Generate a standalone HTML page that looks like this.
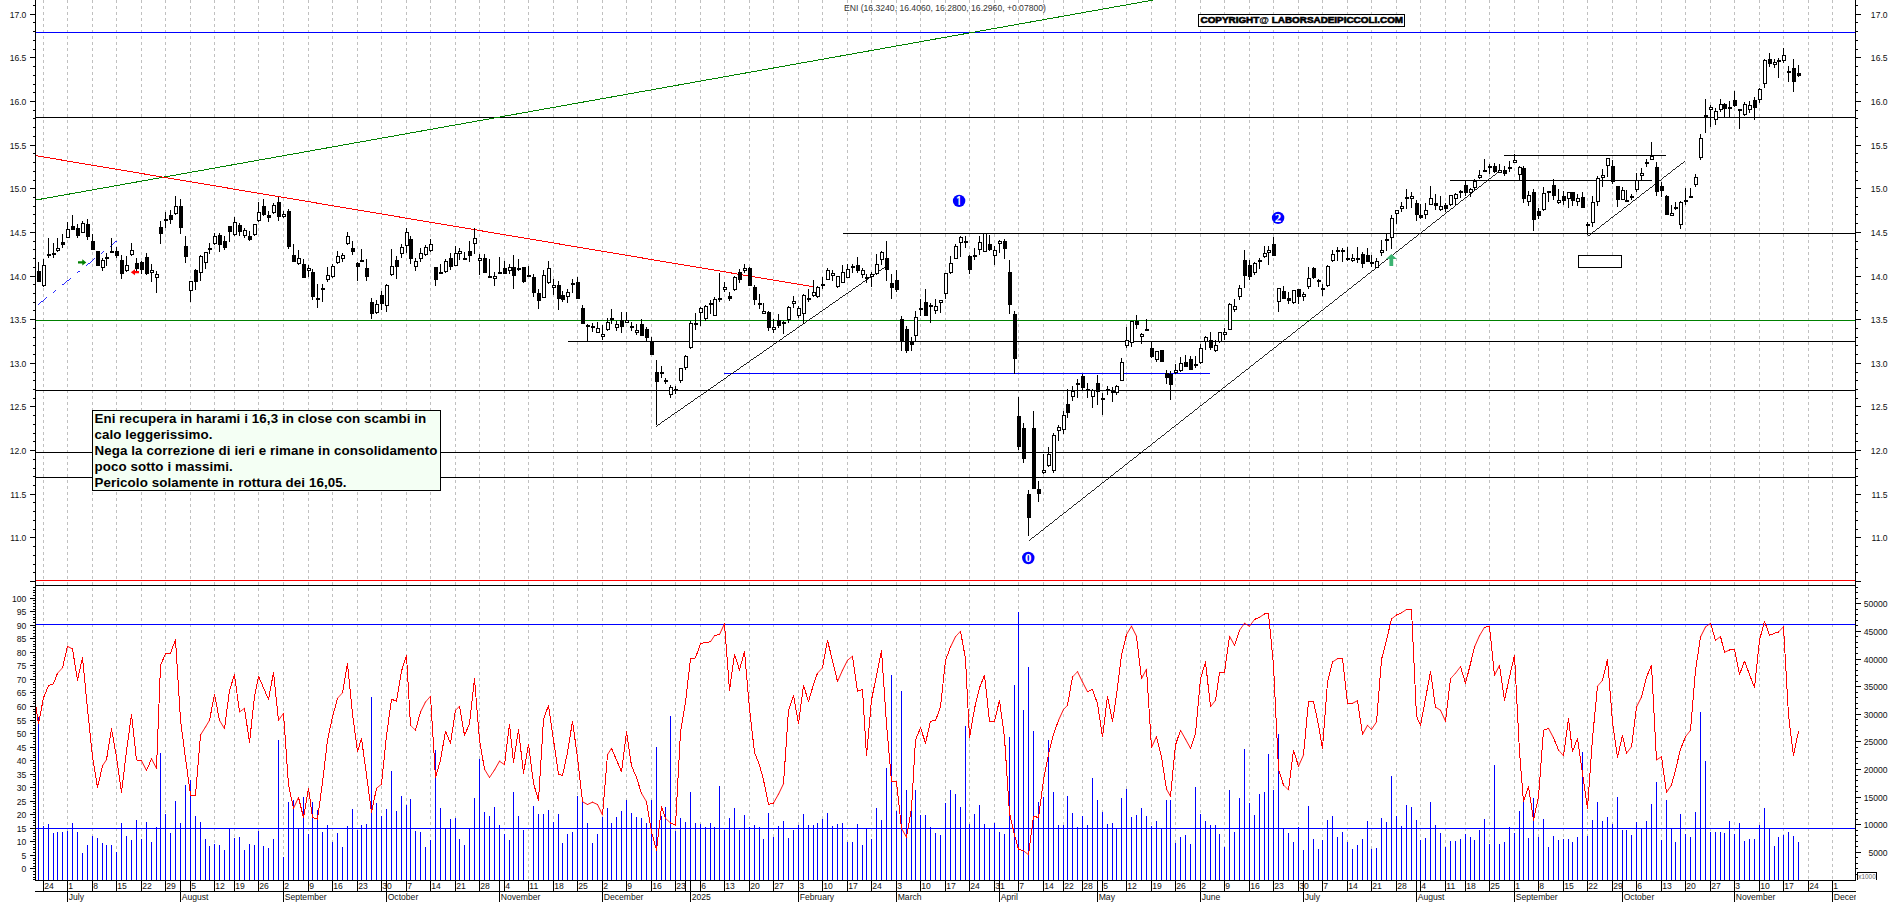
<!DOCTYPE html>
<html lang="it"><head><meta charset="utf-8"><title>ENI</title>
<style>html,body{margin:0;padding:0;background:#fff}body{width:1890px;height:902px;overflow:hidden}svg{display:block}</style></head>
<body>
<svg width="1890" height="902" viewBox="0 0 1890 902" shape-rendering="crispEdges">
<rect width="1890" height="902" fill="#fff"/>
<path d="M43.5 0V880M67.5 0V880M92.5 0V880M116.5 0V880M141.5 0V880M165.5 0V880M190.5 0V880M214.5 0V880M234.5 0V880M258.5 0V880M283.5 0V880M308.5 0V880M332.5 0V880M357.5 0V880M381.5 0V880M406.5 0V880M430.5 0V880M455.5 0V880M479.5 0V880M504.5 0V880M528.5 0V880M553.5 0V880M577.5 0V880M602.5 0V880M626.5 0V880M651.5 0V880M675.5 0V880M700.5 0V880M724.5 0V880M749.5 0V880M773.5 0V880M798.5 0V880M822.5 0V880M847.5 0V880M871.5 0V880M896.5 0V880M920.5 0V880M945.5 0V880M969.5 0V880M994.5 0V880M1018.5 0V880M1043.5 0V880M1063.5 0V880M1082.5 0V880M1102.5 0V880M1126.5 0V880M1151.5 0V880M1175.5 0V880M1200.5 0V880M1224.5 0V880M1249.5 0V880M1273.5 0V880M1298.5 0V880M1322.5 0V880M1347.5 0V880M1371.5 0V880M1396.5 0V880M1420.5 0V880M1445.5 0V880M1465.5 0V880M1489.5 0V880M1514.5 0V880M1538.5 0V880M1563.5 0V880M1587.5 0V880M1612.5 0V880M1636.5 0V880M1661.5 0V880M1685.5 0V880M1710.5 0V880M1734.5 0V880M1759.5 0V880M1783.5 0V880M1808.5 0V880M1832.5 0V880" stroke="#c0c0c0" stroke-width="1" stroke-dasharray="3 3" fill="none"/>
<path d="M36 32.5H1855" stroke="#0000ff" stroke-width="1"/>
<path d="M36 117.5H1855" stroke="#000" stroke-width="1"/>
<path d="M36 320.5H1855" stroke="#008000" stroke-width="1"/>
<path d="M36 390.5H1855" stroke="#000" stroke-width="1"/>
<path d="M36 452.5H1855" stroke="#000" stroke-width="1"/>
<path d="M36 477.5H1855" stroke="#000" stroke-width="1"/>
<path d="M843 233.5H1855" stroke="#000" stroke-width="1"/>
<path d="M568 341.5H1855" stroke="#000" stroke-width="1"/>
<path d="M724 373.5H1210" stroke="#0000ff" stroke-width="1"/>
<path d="M1504 155.5H1666" stroke="#000" stroke-width="1"/>
<path d="M1450 180.5H1652" stroke="#000" stroke-width="1"/>
<path d="M36 580.5H1855" stroke="#ff0000" stroke-width="1"/>
<path d="M36 585.5H1855" stroke="#000" stroke-width="1"/>
<path d="M36 624.5H1855" stroke="#0000ff" stroke-width="1"/>
<path d="M36 828.5H1855" stroke="#0000ff" stroke-width="1"/>
<path d="M36 200L1153.5 0" stroke="#008000" stroke-width="1.00" fill="none"/>
<path d="M36 155.7L812.7 286.7" stroke="#ff0000" stroke-width="1.00" fill="none"/>
<path d="M655.7 426.7L885 267" stroke="#000" stroke-width="0.88" fill="none"/>
<path d="M1029 540.7L1500 170.7" stroke="#000" stroke-width="0.85" fill="none"/>
<path d="M1587.5 235.8L1685 160.3" stroke="#000" stroke-width="0.85" fill="none"/>
<path d="M38 304.8L117.3 240.5" stroke="#0000ff" stroke-width="0.84" fill="none" stroke-dasharray="11.6 7.7 3.9 7.7"/>
<path d="M38.5 880V717M43.5 880V826M48.5 880V824M53.5 880V833M57.5 880V832M62.5 880V832M67.5 880V831M72.5 880V823M77.5 880V832M82.5 880V853M87.5 880V845M92.5 880V836M97.5 880V838M102.5 880V843M106.5 880V845M111.5 880V845M116.5 880V852M121.5 880V823M126.5 880V836M131.5 880V840M136.5 880V820M141.5 880V839M146.5 880V822M151.5 880V842M156.5 880V827M160.5 880V753M165.5 880V814M170.5 880V833M175.5 880V801M180.5 880V823M185.5 880V785M190.5 880V780M195.5 880V816M200.5 880V822M205.5 880V839M209.5 880V846M214.5 880V844M219.5 880V845M224.5 880V850M229.5 880V829M234.5 880V838M239.5 880V837M244.5 880V850M249.5 880V844M254.5 880V845M258.5 880V831M263.5 880V846M268.5 880V848M273.5 880V839M278.5 880V740M283.5 880V857M288.5 880V802M293.5 880V800M298.5 880V829M303.5 880V797M308.5 880V834M312.5 880V802M317.5 880V810M322.5 880V832M327.5 880V825M332.5 880V842M337.5 880V833M342.5 880V847M347.5 880V826M352.5 880V809M357.5 880V830M361.5 880V825M366.5 880V824M371.5 880V697M376.5 880V803M381.5 880V816M386.5 880V809M391.5 880V771M396.5 880V811M401.5 880V796M406.5 880V805M410.5 880V799M415.5 880V831M420.5 880V832M425.5 880V847M430.5 880V840M435.5 880V750M440.5 880V808M445.5 880V829M450.5 880V819M455.5 880V818M459.5 880V839M464.5 880V845M469.5 880V829M474.5 880V798M479.5 880V759M484.5 880V812M489.5 880V816M494.5 880V807M499.5 880V825M504.5 880V834M509.5 880V840M513.5 880V792M518.5 880V816M523.5 880V830M533.5 880V806M538.5 880V814M543.5 880V814M548.5 880V810M553.5 880V822M558.5 880V814M562.5 880V843M567.5 880V834M572.5 880V832M577.5 880V796M582.5 880V802M587.5 880V823M592.5 880V843M597.5 880V834M602.5 880V817M607.5 880V808M611.5 880V823M616.5 880V817M621.5 880V811M626.5 880V800M631.5 880V813M636.5 880V817M641.5 880V818M646.5 880V823M651.5 880V800M656.5 880V747M661.5 880V816M665.5 880V807M670.5 880V716M675.5 880V831M680.5 880V818M685.5 880V822M690.5 880V792M695.5 880V823M700.5 880V824M705.5 880V827M710.5 880V823M714.5 880V827M719.5 880V786M724.5 880V830M729.5 880V818M734.5 880V808M739.5 880V830M744.5 880V815M749.5 880V827M754.5 880V825M759.5 880V827M763.5 880V839M768.5 880V813M773.5 880V837M778.5 880V826M783.5 880V821M788.5 880V838M793.5 880V830M798.5 880V825M803.5 880V814M808.5 880V825M813.5 880V825M817.5 880V823M822.5 880V819M827.5 880V813M832.5 880V826M837.5 880V824M842.5 880V823M847.5 880V842M852.5 880V842M857.5 880V824M862.5 880V845M866.5 880V828M871.5 880V839M876.5 880V808M881.5 880V820M886.5 880V768M891.5 880V675M896.5 880V811M901.5 880V691M906.5 880V790M911.5 880V809M915.5 880V790M920.5 880V815M925.5 880V815M930.5 880V827M935.5 880V833M940.5 880V835M945.5 880V803M950.5 880V790M955.5 880V794M960.5 880V807M965.5 880V726M969.5 880V824M974.5 880V814M979.5 880V805M984.5 880V824M989.5 880V829M994.5 880V823M999.5 880V832M1004.5 880V834M1009.5 880V737M1014.5 880V685M1018.5 880V612M1023.5 880V710M1028.5 880V667M1033.5 880V731M1038.5 880V802M1043.5 880V797M1048.5 880V740M1053.5 880V792M1058.5 880V825M1063.5 880V825M1067.5 880V796M1072.5 880V813M1077.5 880V827M1082.5 880V816M1087.5 880V825M1092.5 880V778M1097.5 880V800M1102.5 880V812M1107.5 880V824M1112.5 880V823M1116.5 880V829M1121.5 880V798M1126.5 880V789M1131.5 880V817M1136.5 880V815M1141.5 880V808M1146.5 880V816M1151.5 880V826M1156.5 880V821M1161.5 880V829M1166.5 880V800M1170.5 880V800M1175.5 880V843M1180.5 880V837M1185.5 880V835M1190.5 880V844M1195.5 880V787M1200.5 880V814M1205.5 880V821M1210.5 880V825M1215.5 880V825M1219.5 880V834M1224.5 880V847M1229.5 880V790M1234.5 880V832M1239.5 880V798M1244.5 880V749M1249.5 880V803M1254.5 880V815M1259.5 880V794M1264.5 880V792M1268.5 880V754M1273.5 880V790M1278.5 880V734M1283.5 880V829M1288.5 880V833M1293.5 880V842M1298.5 880V827M1303.5 880V850M1308.5 880V806M1313.5 880V839M1318.5 880V849M1322.5 880V840M1327.5 880V820M1332.5 880V816M1337.5 880V837M1342.5 880V832M1347.5 880V842M1352.5 880V849M1357.5 880V845M1362.5 880V839M1367.5 880V821M1371.5 880V849M1376.5 880V848M1381.5 880V818M1386.5 880V822M1391.5 880V776M1396.5 880V816M1401.5 880V826M1406.5 880V805M1411.5 880V807M1416.5 880V820M1420.5 880V840M1425.5 880V838M1430.5 880V802M1435.5 880V825M1440.5 880V833M1445.5 880V847M1450.5 880V841M1455.5 880V841M1460.5 880V839M1465.5 880V834M1470.5 880V837M1474.5 880V840M1479.5 880V830M1484.5 880V819M1489.5 880V844M1494.5 880V765M1499.5 880V844M1504.5 880V842M1509.5 880V827M1514.5 880V833M1519.5 880V811M1523.5 880V802M1528.5 880V838M1533.5 880V798M1538.5 880V837M1543.5 880V819M1548.5 880V847M1553.5 880V836M1558.5 880V840M1563.5 880V839M1568.5 880V839M1572.5 880V842M1577.5 880V837M1582.5 880V752M1587.5 880V836M1592.5 880V820M1597.5 880V802M1602.5 880V821M1607.5 880V817M1612.5 880V824M1617.5 880V797M1622.5 880V830M1626.5 880V830M1631.5 880V835M1636.5 880V822M1641.5 880V829M1646.5 880V821M1651.5 880V804M1656.5 880V782M1661.5 880V840M1666.5 880V800M1671.5 880V829M1675.5 880V842M1680.5 880V814M1685.5 880V834M1690.5 880V837M1695.5 880V812M1700.5 880V712M1705.5 880V761M1710.5 880V832M1715.5 880V832M1720.5 880V832M1724.5 880V833M1729.5 880V821M1734.5 880V834M1739.5 880V823M1744.5 880V841M1749.5 880V839M1754.5 880V839M1759.5 880V825M1764.5 880V808M1769.5 880V829M1774.5 880V846M1778.5 880V837M1783.5 880V835M1788.5 880V832M1793.5 880V836M1798.5 880V842" stroke="#0000ff" stroke-width="1" fill="none"/>
<path d="M410.5 725.3L415.5 730.3M1283.5 785L1288.5 790" stroke="#ff0000" stroke-width="0.75" stroke-linecap="square" fill="none"/>
<path d="M57.5 673.3L62.5 667.8M337.5 698.3L342.5 692.8M425.5 702L430.5 696.2M455.5 710.3L459.5 706.2M665.5 818.3L670.5 823M817.5 673.2L822.5 667.8M955.5 636.7L960.5 631.2M1063.5 709.5L1067.5 705.3M1072.5 677L1077.5 671.7M1367.5 725.3L1371.5 729.5M1450.5 678.7L1455.5 673.2M1558.5 750L1563.5 755.8M1597.5 686.2L1602.5 680.3M1778.5 632L1783.5 626.7" stroke="#ff0000" stroke-width="0.80" stroke-linecap="square" fill="none"/>
<path d="M239.5 712L244.5 708.3M278.5 720.3L283.5 713.3M376.5 788.3L381.5 784.2M847.5 660.3L852.5 656.2M1023.5 850.8L1028.5 854.7M1210.5 706.7L1215.5 700.3M1239.5 630.3L1244.5 623.3M1249.5 626.2L1254.5 619.5M1391.5 619L1396.5 615M1455.5 673.2L1460.5 666.7M1626.5 753.3L1631.5 746.7M1685.5 736.7L1690.5 730.3M1705.5 627L1710.5 623.3M1715.5 640.3L1720.5 636.5" stroke="#ff0000" stroke-width="0.85" stroke-linecap="square" fill="none"/>
<path d="M102.5 765.8L106.5 759.7M200.5 735L205.5 727M205.5 727L209.5 720.3M219.5 720.3L224.5 728.7M484.5 769.2L489.5 777.5M489.5 777.5L494.5 770M499.5 761.2L504.5 764.7M607.5 754.7L611.5 748.3M641.5 793.3L646.5 801.7M710.5 641.7L714.5 635.7M1126.5 634.5L1131.5 626.2M1259.5 617.3L1264.5 614M1332.5 662L1337.5 658.7M1371.5 729.5L1376.5 722M1401.5 612.8L1406.5 609.5M1435.5 707L1440.5 710.3M1479.5 635.7L1484.5 627.3M1656.5 760L1661.5 756.7M1666.5 792.5L1671.5 785" stroke="#ff0000" stroke-width="0.90" stroke-linecap="square" fill="none"/>
<path d="M67.5 646.3L72.5 649M141.5 760.8L146.5 770.5M151.5 758.8L156.5 768.3M293.5 808.3L298.5 797.5M420.5 712L425.5 702M494.5 770L499.5 761.2M582.5 801.7L587.5 804.5M587.5 804.5L592.5 802.2M592.5 802.2L597.5 804.5M597.5 804.5L602.5 815M719.5 634.5L724.5 623.7M773.5 803L778.5 794.2M778.5 794.2L783.5 783.8M837.5 681.5L842.5 670.3M842.5 670.3L847.5 660.3M901.5 828.3L906.5 837.2M950.5 647L955.5 636.7M1058.5 720.3L1063.5 709.5M1077.5 671.7L1082.5 682M1082.5 682L1087.5 691.7M1131.5 626.2L1136.5 636.2M1141.5 678.7L1146.5 669.2M1151.5 747.5L1156.5 736.7M1166.5 789.2L1170.5 796.3M1180.5 730.3L1185.5 739.2M1185.5 739.2L1190.5 748.3M1229.5 636.2L1234.5 645.3M1244.5 623.3L1249.5 626.2M1298.5 766.2L1303.5 755M1352.5 703.3L1357.5 700.7M1362.5 734.5L1367.5 725.3M1440.5 710.3L1445.5 721.2M1474.5 647L1479.5 635.7M1494.5 675.3L1499.5 665.3M1548.5 728.3L1553.5 737.8M1636.5 707L1641.5 697M1700.5 637L1705.5 627M1724.5 652.3L1729.5 650" stroke="#ff0000" stroke-width="0.95" stroke-linecap="square" fill="none"/>
<path d="M36 707L38.5 723.7M38.5 723.7L43.5 697.8M43.5 697.8L48.5 685.7M48.5 685.7L53.5 683.7M53.5 683.7L57.5 673.3M62.5 667.8L67.5 646.3M72.5 649L77.5 680.3M77.5 680.3L82.5 657.5M82.5 657.5L87.5 708.7M87.5 708.7L92.5 757M92.5 757L97.5 787.5M97.5 787.5L102.5 765.8M106.5 759.7L111.5 728.7M111.5 728.7L116.5 757M116.5 757L121.5 792.5M121.5 792.5L126.5 751M126.5 751L131.5 714.5M131.5 714.5L136.5 760M136.5 760L141.5 760.8M146.5 770.5L151.5 758.8M156.5 768.3L160.5 665.3M160.5 665.3L165.5 653.7M165.5 653.7L170.5 653.3M170.5 653.3L175.5 639.5M175.5 639.5L180.5 720M180.5 720L185.5 758.3M185.5 758.3L190.5 795M190.5 795L195.5 795.3M195.5 795.3L200.5 735M209.5 720.3L214.5 694.5M214.5 694.5L219.5 720.3M224.5 728.7L229.5 690.3M229.5 690.3L234.5 674.8M234.5 674.8L239.5 712M244.5 708.3L249.5 742.5M249.5 742.5L254.5 696.2M254.5 696.2L258.5 676.2M258.5 676.2L263.5 687.8M263.5 687.8L268.5 699.5M268.5 699.5L273.5 672.5M273.5 672.5L278.5 720.3M283.5 713.3L288.5 785M288.5 785L293.5 808.3M298.5 797.5L303.5 817.5M303.5 817.5L308.5 788.3M308.5 788.3L312.5 817.5M312.5 817.5L317.5 819.2M317.5 819.2L322.5 782.5M322.5 782.5L327.5 740M327.5 740L332.5 717M332.5 717L337.5 698.3M342.5 692.8L347.5 663.3M347.5 663.3L352.5 713.7M352.5 713.7L357.5 751.7M357.5 751.7L361.5 738.3M361.5 738.3L366.5 775M366.5 775L371.5 812.5M371.5 812.5L376.5 788.3M381.5 784.2L386.5 735.8M386.5 735.8L391.5 699.2M391.5 699.2L396.5 701.2M396.5 701.2L401.5 671.2M401.5 671.2L406.5 655.3M406.5 655.3L410.5 725.3M415.5 730.3L420.5 712M430.5 696.2L435.5 777.5M435.5 777.5L440.5 760M440.5 760L445.5 731.2M445.5 731.2L450.5 743.3M450.5 743.3L455.5 710.3M459.5 706.2L464.5 735.3M464.5 735.3L469.5 723.7M469.5 723.7L474.5 679M474.5 679L479.5 740M479.5 740L484.5 769.2M504.5 764.7L509.5 724.2M509.5 724.2L513.5 762.5M513.5 762.5L518.5 729.5M518.5 729.5L523.5 773.3M523.5 773.3L528.5 744.2M528.5 744.2L533.5 783.3M533.5 783.3L538.5 800.5M538.5 800.5L543.5 719.5M543.5 719.5L548.5 705.3M548.5 705.3L553.5 740M553.5 740L558.5 774.2M558.5 774.2L562.5 775.5M562.5 775.5L567.5 752.5M567.5 752.5L572.5 721.2M572.5 721.2L577.5 757.5M577.5 757.5L582.5 801.7M602.5 815L607.5 754.7M611.5 748.3L616.5 760M616.5 760L621.5 771.7M621.5 771.7L626.5 732M626.5 732L631.5 765.8M631.5 765.8L636.5 777.5M636.5 777.5L641.5 793.3M646.5 801.7L651.5 831.7M651.5 831.7L656.5 850M656.5 850L661.5 807M661.5 807L665.5 818.3M670.5 823L675.5 825M675.5 825L680.5 732M680.5 732L685.5 702M685.5 702L690.5 659M690.5 659L695.5 657.8M695.5 657.8L700.5 643.7M700.5 643.7L705.5 642.5M705.5 642.5L710.5 641.7M714.5 635.7L719.5 634.5M724.5 623.7L729.5 690.3M729.5 690.3L734.5 654.5M734.5 654.5L739.5 670M739.5 670L744.5 651.5M744.5 651.5L749.5 708.7M749.5 708.7L754.5 752.5M754.5 752.5L759.5 765M759.5 765L763.5 780M763.5 780L768.5 804.5M768.5 804.5L773.5 803M783.5 783.8L788.5 710.3M788.5 710.3L793.5 695.3M793.5 695.3L798.5 723.7M798.5 723.7L803.5 685.3M803.5 685.3L808.5 701.5M808.5 701.5L813.5 684.5M813.5 684.5L817.5 673.2M822.5 667.8L827.5 640.3M827.5 640.3L832.5 660.8M832.5 660.8L837.5 681.5M852.5 656.2L857.5 691.2M857.5 691.2L862.5 689.5M862.5 689.5L866.5 755.8M866.5 755.8L871.5 700M871.5 700L876.5 675.3M876.5 675.3L881.5 650.3M881.5 650.3L886.5 723.7M886.5 723.7L891.5 781.3M891.5 781.3L896.5 781.7M896.5 781.7L901.5 828.3M906.5 837.2L911.5 808.3M911.5 808.3L915.5 740M915.5 740L920.5 727.8M920.5 727.8L925.5 743M925.5 743L930.5 721.2M930.5 721.2L935.5 720.7M935.5 720.7L940.5 707M940.5 707L945.5 660.3M945.5 660.3L950.5 647M960.5 631.2L965.5 658.7M965.5 658.7L969.5 737.8M969.5 737.8L974.5 708.7M974.5 708.7L979.5 687.8M979.5 687.8L984.5 675.3M984.5 675.3L989.5 721.2M989.5 721.2L994.5 721.2M994.5 721.2L999.5 700.3M999.5 700.3L1004.5 737.5M1004.5 737.5L1009.5 813.3M1009.5 813.3L1014.5 835M1014.5 835L1018.5 849.2M1018.5 849.2L1023.5 850.8M1028.5 854.7L1033.5 816.3M1033.5 816.3L1038.5 817.5M1038.5 817.5L1043.5 780M1043.5 780L1048.5 754.2M1048.5 754.2L1053.5 734.5M1053.5 734.5L1058.5 720.3M1067.5 705.3L1072.5 677M1087.5 691.7L1092.5 689.5M1092.5 689.5L1097.5 703.7M1097.5 703.7L1102.5 737M1102.5 737L1107.5 696.2M1107.5 696.2L1112.5 721.7M1112.5 721.7L1116.5 695.3M1116.5 695.3L1121.5 655.3M1121.5 655.3L1126.5 634.5M1136.5 636.2L1141.5 678.7M1146.5 669.2L1151.5 747.5M1156.5 736.7L1161.5 756.7M1161.5 756.7L1166.5 789.2M1170.5 796.3L1175.5 745M1175.5 745L1180.5 730.3M1190.5 748.3L1195.5 733.7M1195.5 733.7L1200.5 678.7M1200.5 678.7L1205.5 662M1205.5 662L1210.5 706.7M1215.5 700.3L1219.5 672.8M1219.5 672.8L1224.5 672.5M1224.5 672.5L1229.5 636.2M1234.5 645.3L1239.5 630.3M1254.5 619.5L1259.5 617.3M1264.5 614L1268.5 613.3M1268.5 613.3L1273.5 665.3M1273.5 665.3L1278.5 769.2M1278.5 769.2L1283.5 785M1288.5 790L1293.5 750.3M1293.5 750.3L1298.5 766.2M1303.5 755L1308.5 701.5M1308.5 701.5L1313.5 701.5M1313.5 701.5L1318.5 725.3M1318.5 725.3L1322.5 748.3M1322.5 748.3L1327.5 682M1327.5 682L1332.5 662M1337.5 658.7L1342.5 658.7M1342.5 658.7L1347.5 703.2M1347.5 703.2L1352.5 703.3M1357.5 700.7L1362.5 734.5M1376.5 722L1381.5 659.5M1381.5 659.5L1386.5 640.3M1386.5 640.3L1391.5 619M1396.5 615L1401.5 612.8M1406.5 609.5L1411.5 609.2M1411.5 609.2L1416.5 716.2M1416.5 716.2L1420.5 725.3M1420.5 725.3L1425.5 698.7M1425.5 698.7L1430.5 671.7M1430.5 671.7L1435.5 707M1445.5 721.2L1450.5 678.7M1460.5 666.7L1465.5 683.3M1465.5 683.3L1470.5 663.7M1470.5 663.7L1474.5 647M1484.5 627.3L1489.5 626.5M1489.5 626.5L1494.5 675.3M1499.5 665.3L1504.5 700.3M1504.5 700.3L1509.5 677M1509.5 677L1514.5 655.3M1514.5 655.3L1519.5 751.7M1519.5 751.7L1523.5 801.7M1523.5 801.7L1528.5 786.7M1528.5 786.7L1533.5 820M1533.5 820L1538.5 796.7M1538.5 796.7L1543.5 730.3M1543.5 730.3L1548.5 728.3M1553.5 737.8L1558.5 750M1563.5 755.8L1568.5 718.7M1568.5 718.7L1572.5 751.7M1572.5 751.7L1577.5 738.3M1577.5 738.3L1582.5 773.3M1582.5 773.3L1587.5 808.3M1587.5 808.3L1592.5 738.3M1592.5 738.3L1597.5 686.2M1602.5 680.3L1607.5 659.5M1607.5 659.5L1612.5 722M1612.5 722L1617.5 757.5M1617.5 757.5L1622.5 735.3M1622.5 735.3L1626.5 753.3M1631.5 746.7L1636.5 707M1641.5 697L1646.5 677M1646.5 677L1651.5 665.3M1651.5 665.3L1656.5 760M1661.5 756.7L1666.5 792.5M1671.5 785L1675.5 770M1675.5 770L1680.5 749.2M1680.5 749.2L1685.5 736.7M1690.5 730.3L1695.5 670.3M1695.5 670.3L1700.5 637M1710.5 623.3L1715.5 640.3M1720.5 636.5L1724.5 652.3M1729.5 650L1734.5 649.5M1734.5 649.5L1739.5 674.5M1739.5 674.5L1744.5 661.2M1744.5 661.2L1749.5 674.5M1749.5 674.5L1754.5 687.5M1754.5 687.5L1759.5 640.3M1759.5 640.3L1764.5 621.2M1764.5 621.2L1769.5 635.3M1769.5 635.3L1774.5 633.3M1774.5 633.3L1778.5 632M1783.5 626.7L1788.5 715.3M1788.5 715.3L1793.5 755.8M1793.5 755.8L1798.5 731.2" stroke="#ff0000" stroke-width="1.00" stroke-linecap="square" fill="none"/>
<path d="M38.5 262V282M43.5 259V287M48.5 238V258M53.5 243V258M57.5 238V252M62.5 234V248M67.5 222V238M72.5 215V230M77.5 224V238M82.5 221V233M87.5 219V240M92.5 234V250M97.5 251V266M102.5 258V271M106.5 253V266M111.5 238V252M116.5 247V258M121.5 255V279M126.5 256V272M131.5 243V256M136.5 258V271M141.5 261V274M146.5 253V275M151.5 264V282M156.5 271V293M160.5 221V244M165.5 212V228M170.5 210V224M175.5 196V215M180.5 199V234M185.5 236V263M190.5 281V302M195.5 269V290M200.5 255V281M205.5 252V269M209.5 243V254M214.5 233V245M219.5 233V252M224.5 236V250M229.5 226V242M234.5 217V236M239.5 223V236M244.5 228V238M249.5 231V241M254.5 224V236M258.5 202V222M263.5 199V216M268.5 211V222M273.5 203V214M278.5 197V221M283.5 211V218M288.5 209V249M293.5 244V262M298.5 250V265M303.5 259V278M308.5 265V277M312.5 269V300M317.5 284V308M322.5 284V302M327.5 267V282M332.5 264V278M337.5 251V264M342.5 253V262M347.5 232V245M352.5 241V255M357.5 262V281M361.5 249V262M366.5 259V281M371.5 298V319M376.5 300V314M381.5 291V310M386.5 284V312M391.5 249V276M396.5 256V279M401.5 244V258M406.5 228V253M410.5 236V264M415.5 258V271M420.5 248V262M425.5 245V256M430.5 239V252M435.5 267V286M440.5 264V274M445.5 259V273M450.5 253V270M455.5 246V266M459.5 248V260M464.5 252V260M469.5 241V262M474.5 228V254M479.5 254V275M484.5 254V273M489.5 259V277M494.5 272V286M499.5 257V274M504.5 261V274M509.5 264V274M513.5 255V289M518.5 259V271M523.5 267V283M528.5 266V276M533.5 274V297M538.5 289V309M543.5 270V298M548.5 261V284M553.5 279V295M558.5 281V310M562.5 291V302M567.5 289V303M572.5 279V293M577.5 277V299M582.5 305V324M587.5 324V342M592.5 323V332M597.5 322V333M602.5 325V340M607.5 318V331M611.5 309V324M616.5 321V331M621.5 312V333M626.5 312V322M631.5 322V331M636.5 324V335M641.5 319V336M646.5 327V341M651.5 337V355M656.5 360V425M661.5 366V378M665.5 378V384M670.5 385V398M675.5 386V394M680.5 368V383M685.5 355V370M690.5 321V349M695.5 313V330M700.5 307V326M705.5 305V321M710.5 300V314M714.5 297V316M719.5 273V302M724.5 282V292M729.5 292V301M734.5 276V291M739.5 269V283M744.5 264V273M749.5 267V286M754.5 285V305M759.5 294V309M763.5 303V314M768.5 311V331M773.5 319V333M778.5 314V328M783.5 321V334M788.5 306V323M793.5 296V308M798.5 306V318M803.5 294V324M808.5 289V302M813.5 280V297M817.5 286V298M822.5 277V289M827.5 268V280M832.5 270V281M837.5 276V288M842.5 265V283M847.5 264V278M852.5 264V273M857.5 257V273M862.5 268V278M866.5 274V283M871.5 272V287M876.5 254V275M881.5 251V265M886.5 241V281M891.5 274V299M896.5 270V292M901.5 316V351M906.5 326V353M911.5 337V351M915.5 311V341M920.5 299V316M925.5 289V316M930.5 303V323M935.5 299V314M940.5 300V313M945.5 273V299M950.5 256V274M955.5 244V259M960.5 236V257M965.5 236V248M969.5 255V274M974.5 248V260M979.5 236V255M984.5 233V252M989.5 235V251M994.5 246V265M999.5 240V253M1004.5 239V259M1009.5 260V314M1014.5 311V374M1018.5 397V450M1023.5 423V463M1028.5 490V536M1033.5 411V489M1038.5 481V502M1043.5 454V474M1048.5 447V467M1053.5 433V473M1058.5 425V441M1063.5 411V434M1067.5 389V418M1072.5 386V401M1077.5 379V398M1082.5 374V390M1087.5 383V398M1092.5 389V408M1097.5 375V405M1102.5 393V415M1107.5 386V395M1112.5 387V402M1116.5 385V395M1121.5 358V381M1126.5 327V348M1131.5 321V347M1136.5 315V329M1141.5 333V344M1146.5 319V331M1151.5 342V358M1156.5 351V362M1161.5 350V362M1166.5 370V384M1170.5 371V400M1175.5 364V374M1180.5 357V372M1185.5 355V367M1190.5 356V370M1195.5 356V368M1200.5 344V364M1205.5 336V350M1210.5 332V350M1215.5 340V352M1219.5 332V343M1224.5 328V340M1229.5 303V330M1234.5 299V312M1239.5 285V300M1244.5 250V288M1249.5 260V280M1254.5 262V275M1259.5 258V269M1264.5 246V258M1268.5 246V265M1273.5 237V256M1278.5 288V312M1283.5 286V299M1288.5 292V304M1293.5 290V304M1298.5 289V304M1303.5 292V301M1308.5 267V289M1313.5 267V279M1318.5 279V287M1322.5 284V296M1327.5 265V287M1332.5 250V262M1337.5 247V261M1342.5 248V262M1347.5 247V261M1352.5 254V262M1357.5 247V263M1362.5 252V268M1367.5 248V262M1371.5 255V267M1376.5 258V268M1381.5 240V256M1386.5 233V251M1391.5 215V249M1396.5 210V224M1401.5 202V212M1406.5 189V209M1411.5 192V208M1416.5 200V221M1420.5 204V219M1425.5 203V219M1430.5 186V205M1435.5 194V210M1440.5 196V211M1445.5 203V212M1450.5 195V206M1455.5 193V205M1460.5 190V198M1465.5 181V196M1470.5 188V197M1474.5 179V191M1479.5 170V179M1484.5 159V172M1489.5 164V174M1494.5 163V173M1499.5 164V173M1504.5 166V176M1509.5 161V172M1514.5 154V163M1519.5 166V180M1523.5 166V203M1528.5 191V206M1533.5 189V231M1538.5 208V219M1543.5 187V211M1548.5 191V202M1553.5 179V200M1558.5 189V204M1563.5 191V205M1568.5 192V208M1572.5 192V206M1577.5 194V206M1582.5 192V208M1587.5 222V235M1592.5 196V227M1597.5 176V206M1602.5 169V187M1607.5 158V177M1612.5 160V184M1617.5 186V207M1622.5 187V200M1626.5 190V201M1631.5 194V200M1636.5 173V192M1641.5 168V180M1646.5 159V167M1651.5 142V160M1656.5 162V196M1661.5 182V197M1666.5 195V215M1671.5 205V216M1675.5 202V210M1680.5 201V229M1685.5 188V205M1690.5 188V198M1695.5 174V187M1700.5 134V160M1705.5 99V133M1710.5 105V127M1715.5 108V125M1720.5 99V112M1724.5 103V117M1729.5 101V117M1734.5 91V107M1739.5 109V129M1744.5 102V116M1749.5 101V113M1754.5 97V120M1759.5 88V103M1764.5 59V88M1769.5 53V67M1774.5 59V68M1778.5 58V78M1783.5 48V63M1788.5 66V82M1793.5 59V92M1798.5 65V77" stroke="#000" stroke-width="1" fill="none"/>
<path d="M37 271h4v11h-4zM47 254h4v2h-4zM52 253h4v2h-4zM61 242h4v3h-4zM71 226h4v4h-4zM76 228h4v8h-4zM86 224h4v13h-4zM91 241h4v9h-4zM96 251h4v15h-4zM105 257h4v2h-4zM110 251h4v2h-4zM115 251h4v5h-4zM120 260h4v14h-4zM135 263h4v6h-4zM140 262h4v8h-4zM145 257h4v17h-4zM159 227h4v7h-4zM164 219h4v2h-4zM169 215h4v5h-4zM179 206h4v22h-4zM184 246h4v11h-4zM194 270h4v12h-4zM208 248h4v2h-4zM218 235h4v10h-4zM223 241h4v7h-4zM228 226h4v6h-4zM238 225h4v7h-4zM248 236h4v4h-4zM262 206h4v9h-4zM267 215h4v3h-4zM277 202h4v15h-4zM287 211h4v36h-4zM292 255h4v7h-4zM302 264h4v14h-4zM311 272h4v25h-4zM316 298h4v2h-4zM321 288h4v2h-4zM351 248h4v4h-4zM356 263h4v4h-4zM360 260h4v2h-4zM365 268h4v9h-4zM370 302h4v12h-4zM380 295h4v9h-4zM395 260h4v7h-4zM409 239h4v20h-4zM434 267h4v13h-4zM439 272h4v2h-4zM449 258h4v9h-4zM463 258h4v2h-4zM468 251h4v5h-4zM483 258h4v15h-4zM488 276h4v2h-4zM498 272h4v2h-4zM503 268h4v6h-4zM512 267h4v9h-4zM517 268h4v2h-4zM522 267h4v15h-4zM527 275h4v2h-4zM532 277h4v16h-4zM537 293h4v8h-4zM557 285h4v14h-4zM561 295h4v5h-4zM571 283h4v2h-4zM576 282h4v17h-4zM581 308h4v16h-4zM586 325h4v2h-4zM591 326h4v2h-4zM610 318h4v2h-4zM620 320h4v7h-4zM630 326h4v2h-4zM640 324h4v12h-4zM645 329h4v9h-4zM650 341h4v14h-4zM655 372h4v10h-4zM660 372h4v2h-4zM664 380h4v2h-4zM674 389h4v2h-4zM694 323h4v2h-4zM709 303h4v2h-4zM718 298h4v2h-4zM728 296h4v3h-4zM738 272h4v8h-4zM748 268h4v18h-4zM753 287h4v13h-4zM758 303h4v2h-4zM767 312h4v16h-4zM777 320h4v6h-4zM782 322h4v2h-4zM807 298h4v2h-4zM821 284h4v2h-4zM851 266h4v2h-4zM856 265h4v6h-4zM865 277h4v2h-4zM885 258h4v12h-4zM890 283h4v5h-4zM895 280h4v10h-4zM900 319h4v22h-4zM905 329h4v22h-4zM910 341h4v4h-4zM919 308h4v2h-4zM924 302h4v14h-4zM929 305h4v2h-4zM964 241h4v2h-4zM968 256h4v14h-4zM973 255h4v2h-4zM988 244h4v6h-4zM1003 241h4v8h-4zM1008 272h4v33h-4zM1013 314h4v45h-4zM1017 416h4v31h-4zM1022 428h4v31h-4zM1027 494h4v24h-4zM1032 428h4v61h-4zM1037 489h4v5h-4zM1066 404h4v9h-4zM1076 383h4v2h-4zM1081 376h4v12h-4zM1086 389h4v2h-4zM1096 383h4v9h-4zM1101 398h4v2h-4zM1106 389h4v2h-4zM1111 391h4v2h-4zM1135 321h4v4h-4zM1145 329h4v2h-4zM1150 348h4v9h-4zM1160 350h4v12h-4zM1165 373h4v5h-4zM1169 374h4v11h-4zM1184 362h4v5h-4zM1189 359h4v11h-4zM1194 364h4v2h-4zM1209 340h4v8h-4zM1243 260h4v16h-4zM1248 265h4v12h-4zM1258 260h4v2h-4zM1272 244h4v12h-4zM1282 291h4v8h-4zM1287 298h4v3h-4zM1297 289h4v8h-4zM1312 268h4v10h-4zM1317 280h4v2h-4zM1321 288h4v2h-4zM1336 250h4v2h-4zM1341 250h4v2h-4zM1346 258h4v2h-4zM1356 258h4v2h-4zM1361 254h4v10h-4zM1366 255h4v7h-4zM1370 262h4v2h-4zM1385 239h4v2h-4zM1405 197h4v2h-4zM1415 203h4v12h-4zM1419 215h4v3h-4zM1434 203h4v3h-4zM1444 205h4v4h-4zM1459 191h4v2h-4zM1464 185h4v8h-4zM1483 170h4v2h-4zM1488 166h4v2h-4zM1493 166h4v6h-4zM1503 170h4v4h-4zM1508 167h4v2h-4zM1522 168h4v31h-4zM1532 192h4v28h-4zM1537 211h4v5h-4zM1547 191h4v2h-4zM1552 185h4v11h-4zM1562 196h4v5h-4zM1571 192h4v9h-4zM1581 197h4v11h-4zM1586 224h4v2h-4zM1611 166h4v16h-4zM1616 186h4v14h-4zM1625 200h4v2h-4zM1630 196h4v2h-4zM1645 162h4v2h-4zM1655 167h4v25h-4zM1660 186h4v5h-4zM1665 196h4v19h-4zM1674 207h4v2h-4zM1684 200h4v2h-4zM1689 196h4v2h-4zM1704 115h4v2h-4zM1723 104h4v5h-4zM1728 107h4v2h-4zM1733 100h4v6h-4zM1738 109h4v2h-4zM1753 100h4v8h-4zM1768 59h4v5h-4zM1777 60h4v2h-4zM1787 71h4v2h-4zM1792 68h4v14h-4zM1797 73h4v3h-4z" fill="#000"/>
<path d="M42.5 265.5h3v20h-3zM56.5 248.5h3v2h-3zM66.5 229.5h3v8h-3zM81.5 223.5h3v9h-3zM101.5 260.5h3v7h-3zM125.5 265.5h3v5h-3zM130.5 250.5h3v4h-3zM150.5 270.5h3v2h-3zM155.5 274.5h3v3h-3zM174.5 206.5h3v7h-3zM189.5 281.5h3v9h-3zM199.5 256.5h3v16h-3zM204.5 252.5h3v10h-3zM213.5 236.5h3v7h-3zM233.5 222.5h3v12h-3zM243.5 230.5h3v5h-3zM253.5 224.5h3v10h-3zM257.5 212.5h3v8h-3zM272.5 205.5h3v7h-3zM282.5 214.5h3v2h-3zM297.5 258.5h3v5h-3zM307.5 268.5h3v2h-3zM326.5 275.5h3v4h-3zM331.5 266.5h3v10h-3zM336.5 256.5h3v6h-3zM341.5 255.5h3v3h-3zM346.5 236.5h3v7h-3zM375.5 304.5h3v8h-3zM385.5 285.5h3v20h-3zM390.5 266.5h3v8h-3zM400.5 247.5h3v6h-3zM405.5 232.5h3v13h-3zM414.5 261.5h3v5h-3zM419.5 253.5h3v5h-3zM424.5 247.5h3v7h-3zM429.5 244.5h3v6h-3zM444.5 261.5h3v10h-3zM454.5 253.5h3v12h-3zM458.5 251.5h3v2h-3zM473.5 238.5h3v5h-3zM478.5 258.5h3v2h-3zM493.5 276.5h3v2h-3zM508.5 267.5h3v3h-3zM542.5 275.5h3v22h-3zM547.5 268.5h3v14h-3zM552.5 285.5h3v2h-3zM566.5 292.5h3v4h-3zM596.5 328.5h3v4h-3zM601.5 334.5h3v2h-3zM606.5 322.5h3v7h-3zM615.5 324.5h3v3h-3zM625.5 320.5h3v2h-3zM635.5 330.5h3v2h-3zM669.5 387.5h3v7h-3zM679.5 368.5h3v12h-3zM684.5 356.5h3v11h-3zM689.5 323.5h3v24h-3zM699.5 308.5h3v4h-3zM704.5 306.5h3v12h-3zM713.5 299.5h3v16h-3zM723.5 287.5h3v2h-3zM733.5 277.5h3v12h-3zM743.5 268.5h3v2h-3zM762.5 311.5h3v2h-3zM772.5 327.5h3v2h-3zM787.5 307.5h3v12h-3zM792.5 301.5h3v2h-3zM797.5 308.5h3v7h-3zM802.5 295.5h3v18h-3zM812.5 292.5h3v3h-3zM816.5 287.5h3v9h-3zM826.5 270.5h3v9h-3zM831.5 273.5h3v2h-3zM836.5 276.5h3v10h-3zM841.5 272.5h3v10h-3zM846.5 269.5h3v8h-3zM861.5 270.5h3v4h-3zM870.5 274.5h3v2h-3zM875.5 264.5h3v9h-3zM880.5 252.5h3v7h-3zM914.5 317.5h3v18h-3zM934.5 306.5h3v4h-3zM939.5 300.5h3v2h-3zM944.5 273.5h3v20h-3zM949.5 263.5h3v9h-3zM954.5 246.5h3v12h-3zM959.5 237.5h3v5h-3zM978.5 242.5h3v7h-3zM983.5 233.5h3v18h-3zM993.5 250.5h3v5h-3zM998.5 241.5h3v2h-3zM1042.5 470.5h3v2h-3zM1047.5 454.5h3v11h-3zM1052.5 435.5h3v35h-3zM1057.5 427.5h3v3h-3zM1062.5 415.5h3v14h-3zM1071.5 391.5h3v5h-3zM1091.5 390.5h3v6h-3zM1115.5 386.5h3v6h-3zM1120.5 362.5h3v18h-3zM1125.5 340.5h3v5h-3zM1130.5 321.5h3v21h-3zM1140.5 334.5h3v2h-3zM1155.5 351.5h3v8h-3zM1174.5 370.5h3v2h-3zM1179.5 363.5h3v7h-3zM1199.5 348.5h3v14h-3zM1204.5 337.5h3v4h-3zM1214.5 345.5h3v5h-3zM1218.5 332.5h3v9h-3zM1223.5 332.5h3v2h-3zM1228.5 304.5h3v25h-3zM1233.5 306.5h3v3h-3zM1238.5 288.5h3v8h-3zM1253.5 263.5h3v9h-3zM1263.5 253.5h3v3h-3zM1267.5 250.5h3v2h-3zM1277.5 288.5h3v13h-3zM1292.5 290.5h3v12h-3zM1302.5 294.5h3v2h-3zM1307.5 278.5h3v8h-3zM1326.5 266.5h3v19h-3zM1331.5 254.5h3v6h-3zM1351.5 258.5h3v2h-3zM1375.5 261.5h3v6h-3zM1380.5 250.5h3v2h-3zM1390.5 218.5h3v19h-3zM1395.5 210.5h3v3h-3zM1400.5 206.5h3v2h-3zM1410.5 196.5h3v2h-3zM1424.5 210.5h3v4h-3zM1429.5 198.5h3v6h-3zM1439.5 206.5h3v3h-3zM1449.5 195.5h3v9h-3zM1454.5 194.5h3v4h-3zM1469.5 189.5h3v3h-3zM1473.5 181.5h3v6h-3zM1478.5 175.5h3v2h-3zM1498.5 170.5h3v2h-3zM1513.5 160.5h3v2h-3zM1518.5 167.5h3v7h-3zM1527.5 195.5h3v6h-3zM1542.5 193.5h3v16h-3zM1557.5 200.5h3v2h-3zM1567.5 192.5h3v6h-3zM1576.5 198.5h3v3h-3zM1591.5 202.5h3v20h-3zM1596.5 178.5h3v23h-3zM1601.5 175.5h3v2h-3zM1606.5 158.5h3v7h-3zM1621.5 190.5h3v9h-3zM1635.5 180.5h3v9h-3zM1640.5 173.5h3v2h-3zM1650.5 156.5h3v3h-3zM1670.5 213.5h3v2h-3zM1679.5 202.5h3v22h-3zM1694.5 177.5h3v7h-3zM1699.5 138.5h3v19h-3zM1709.5 107.5h3v2h-3zM1714.5 111.5h3v8h-3zM1719.5 104.5h3v5h-3zM1743.5 104.5h3v10h-3zM1748.5 105.5h3v4h-3zM1758.5 89.5h3v10h-3zM1763.5 60.5h3v23h-3zM1773.5 62.5h3v2h-3zM1782.5 55.5h3v5h-3z" fill="#fff" stroke="#000" stroke-width="1"/>
<circle cx="959.1" cy="200.9" r="6.2" fill="#0000ff" shape-rendering="auto"/>
<text x="958.9" y="205.1" font-family="NanumGothic,Liberation Sans,sans-serif" font-weight="bold" font-size="12" fill="#fff" text-anchor="middle">1</text>
<circle cx="1278.1" cy="217.9" r="6.2" fill="#0000ff" shape-rendering="auto"/>
<text x="1278.1" y="222.0" font-family="Liberation Serif,Times New Roman,serif" font-weight="bold" font-size="13" fill="#fff" text-anchor="middle">2</text>
<circle cx="1028.3" cy="558" r="6.2" fill="#0000ff" shape-rendering="auto"/>
<text x="1028.3" y="562.1" font-family="Liberation Serif,Times New Roman,serif" font-weight="bold" font-size="13" fill="#fff" text-anchor="middle">0</text>
<rect x="1578.5" y="255.5" width="43" height="12" fill="#fff" stroke="#000"/>
<path d="M78 261.3h4.3v-2l4 3.1-4 3.1v-2H78z" fill="#008000" shape-rendering="auto"/>
<path d="M139 271h-4v-1.8l-4.2 3 4.2 3v-1.9h4z" fill="#ff0000" shape-rendering="auto"/>
<path d="M1391.4 254l5.4 4.9h-3.6v7.1h-3.8v-7.1h-3.4z" fill="#3cb371" shape-rendering="auto"/>
<path d="M35.5 0V881M1855.5 0V881M35 880.5H1856M35 891.5H1856M30 581.5H35M1856 581.5H1861M33 572.5H35M1856 572.5H1858M33 564.5H35M1856 564.5H1858M33 555.5H35M1856 555.5H1858M33 546.5H35M1856 546.5H1858M30 537.5H35M1856 537.5H1861M33 529.5H35M1856 529.5H1858M33 520.5H35M1856 520.5H1858M33 511.5H35M1856 511.5H1858M33 502.5H35M1856 502.5H1858M30 494.5H35M1856 494.5H1861M33 485.5H35M1856 485.5H1858M33 476.5H35M1856 476.5H1858M33 468.5H35M1856 468.5H1858M33 459.5H35M1856 459.5H1858M30 450.5H35M1856 450.5H1861M33 441.5H35M1856 441.5H1858M33 433.5H35M1856 433.5H1858M33 424.5H35M1856 424.5H1858M33 415.5H35M1856 415.5H1858M30 406.5H35M1856 406.5H1861M33 398.5H35M1856 398.5H1858M33 389.5H35M1856 389.5H1858M33 380.5H35M1856 380.5H1858M33 372.5H35M1856 372.5H1858M30 363.5H35M1856 363.5H1861M33 354.5H35M1856 354.5H1858M33 345.5H35M1856 345.5H1858M33 337.5H35M1856 337.5H1858M33 328.5H35M1856 328.5H1858M30 319.5H35M1856 319.5H1861M33 310.5H35M1856 310.5H1858M33 302.5H35M1856 302.5H1858M33 293.5H35M1856 293.5H1858M33 284.5H35M1856 284.5H1858M30 276.5H35M1856 276.5H1861M33 267.5H35M1856 267.5H1858M33 258.5H35M1856 258.5H1858M33 249.5H35M1856 249.5H1858M33 241.5H35M1856 241.5H1858M30 232.5H35M1856 232.5H1861M33 223.5H35M1856 223.5H1858M33 214.5H35M1856 214.5H1858M33 206.5H35M1856 206.5H1858M33 197.5H35M1856 197.5H1858M30 188.5H35M1856 188.5H1861M33 180.5H35M1856 180.5H1858M33 171.5H35M1856 171.5H1858M33 162.5H35M1856 162.5H1858M33 153.5H35M1856 153.5H1858M30 145.5H35M1856 145.5H1861M33 136.5H35M1856 136.5H1858M33 127.5H35M1856 127.5H1858M33 118.5H35M1856 118.5H1858M33 110.5H35M1856 110.5H1858M30 101.5H35M1856 101.5H1861M33 92.5H35M1856 92.5H1858M33 84.5H35M1856 84.5H1858M33 75.5H35M1856 75.5H1858M33 66.5H35M1856 66.5H1858M30 57.5H35M1856 57.5H1861M33 49.5H35M1856 49.5H1858M33 40.5H35M1856 40.5H1858M33 31.5H35M1856 31.5H1858M33 22.5H35M1856 22.5H1858M30 14.5H35M1856 14.5H1861M33 5.5H35M1856 5.5H1858M33 879.5H35M33 877.5H35M33 874.5H35M33 871.5H35M30 868.5H35M33 866.5H35M33 863.5H35M33 860.5H35M33 858.5H35M30 855.5H35M33 852.5H35M33 849.5H35M33 847.5H35M33 844.5H35M30 841.5H35M33 839.5H35M33 836.5H35M33 833.5H35M33 831.5H35M30 828.5H35M33 825.5H35M33 822.5H35M33 820.5H35M33 817.5H35M30 814.5H35M33 812.5H35M33 809.5H35M33 806.5H35M33 803.5H35M30 801.5H35M33 798.5H35M33 795.5H35M33 793.5H35M33 790.5H35M30 787.5H35M33 784.5H35M33 782.5H35M33 779.5H35M33 776.5H35M30 774.5H35M33 771.5H35M33 768.5H35M33 766.5H35M33 763.5H35M30 760.5H35M33 757.5H35M33 755.5H35M33 752.5H35M33 749.5H35M30 747.5H35M33 744.5H35M33 741.5H35M33 738.5H35M33 736.5H35M30 733.5H35M33 730.5H35M33 728.5H35M33 725.5H35M33 722.5H35M30 720.5H35M33 717.5H35M33 714.5H35M33 711.5H35M33 709.5H35M30 706.5H35M33 703.5H35M33 701.5H35M33 698.5H35M33 695.5H35M30 692.5H35M33 690.5H35M33 687.5H35M33 684.5H35M33 682.5H35M30 679.5H35M33 676.5H35M33 673.5H35M33 671.5H35M33 668.5H35M30 665.5H35M33 663.5H35M33 660.5H35M33 657.5H35M33 655.5H35M30 652.5H35M33 649.5H35M33 646.5H35M33 644.5H35M33 641.5H35M30 638.5H35M33 636.5H35M33 633.5H35M33 630.5H35M33 627.5H35M30 625.5H35M33 622.5H35M33 619.5H35M33 617.5H35M33 614.5H35M30 611.5H35M33 609.5H35M33 606.5H35M33 603.5H35M33 600.5H35M30 598.5H35M33 595.5H35M33 592.5H35M33 590.5H35M33 587.5H35M1856 874.5H1858M1856 868.5H1858M1856 863.5H1858M1856 857.5H1858M1856 852.5H1861M1856 846.5H1858M1856 841.5H1858M1856 835.5H1858M1856 830.5H1858M1856 824.5H1861M1856 819.5H1858M1856 813.5H1858M1856 808.5H1858M1856 802.5H1858M1856 797.5H1861M1856 791.5H1858M1856 786.5H1858M1856 780.5H1858M1856 775.5H1858M1856 769.5H1861M1856 763.5H1858M1856 758.5H1858M1856 752.5H1858M1856 747.5H1858M1856 741.5H1861M1856 736.5H1858M1856 730.5H1858M1856 725.5H1858M1856 719.5H1858M1856 714.5H1861M1856 708.5H1858M1856 703.5H1858M1856 697.5H1858M1856 692.5H1858M1856 686.5H1861M1856 681.5H1858M1856 675.5H1858M1856 670.5H1858M1856 664.5H1858M1856 659.5H1861M1856 653.5H1858M1856 647.5H1858M1856 642.5H1858M1856 636.5H1858M1856 631.5H1861M1856 625.5H1858M1856 620.5H1858M1856 614.5H1858M1856 609.5H1858M1856 603.5H1861M1856 598.5H1858M1856 592.5H1858M1856 587.5H1858M43.5 880V892M67.5 880V892M92.5 880V892M116.5 880V892M141.5 880V892M165.5 880V892M190.5 880V892M214.5 880V892M234.5 880V892M258.5 880V892M283.5 880V892M308.5 880V892M332.5 880V892M357.5 880V892M381.5 880V892M406.5 880V892M430.5 880V892M455.5 880V892M479.5 880V892M504.5 880V892M528.5 880V892M553.5 880V892M577.5 880V892M602.5 880V892M626.5 880V892M651.5 880V892M675.5 880V892M685.5 880V892M700.5 880V892M724.5 880V892M749.5 880V892M773.5 880V892M798.5 880V892M822.5 880V892M847.5 880V892M871.5 880V892M896.5 880V892M920.5 880V892M945.5 880V892M969.5 880V892M994.5 880V892M1018.5 880V892M1043.5 880V892M1063.5 880V892M1082.5 880V892M1102.5 880V892M1126.5 880V892M1151.5 880V892M1175.5 880V892M1200.5 880V892M1224.5 880V892M1249.5 880V892M1273.5 880V892M1298.5 880V892M1322.5 880V892M1347.5 880V892M1371.5 880V892M1396.5 880V892M1420.5 880V892M1445.5 880V892M1465.5 880V892M1489.5 880V892M1514.5 880V892M1538.5 880V892M1563.5 880V892M1587.5 880V892M1612.5 880V892M1636.5 880V892M1661.5 880V892M1685.5 880V892M1710.5 880V892M1734.5 880V892M1759.5 880V892M1783.5 880V892M1808.5 880V892M1832.5 880V892M67.5 880V902M180.5 880V902M283.5 880V902M386.5 880V902M499.5 880V902M602.5 880V902M690.5 880V902M798.5 880V902M896.5 880V902M999.5 880V902M1097.5 880V902M1200.5 880V902M1303.5 880V902M1416.5 880V902M1514.5 880V902M1622.5 880V902M1734.5 880V902M1832.5 880V902M1857.5 880V872.5H1876.5V880" stroke="#000" stroke-width="1" fill="none"/>
<g font-family="Liberation Sans,Arial,sans-serif" shape-rendering="auto" clip-path="url(#clipx)"><text x="26.4" y="541" font-size="8.6" fill="#111" text-anchor="end">11.0</text><text x="1887.6" y="541" font-size="8.6" fill="#111" text-anchor="end">11.0</text><text x="26.4" y="498" font-size="8.6" fill="#111" text-anchor="end">11.5</text><text x="1887.6" y="498" font-size="8.6" fill="#111" text-anchor="end">11.5</text><text x="26.4" y="454" font-size="8.6" fill="#111" text-anchor="end">12.0</text><text x="1887.6" y="454" font-size="8.6" fill="#111" text-anchor="end">12.0</text><text x="26.4" y="410" font-size="8.6" fill="#111" text-anchor="end">12.5</text><text x="1887.6" y="410" font-size="8.6" fill="#111" text-anchor="end">12.5</text><text x="26.4" y="367" font-size="8.6" fill="#111" text-anchor="end">13.0</text><text x="1887.6" y="367" font-size="8.6" fill="#111" text-anchor="end">13.0</text><text x="26.4" y="323" font-size="8.6" fill="#111" text-anchor="end">13.5</text><text x="1887.6" y="323" font-size="8.6" fill="#111" text-anchor="end">13.5</text><text x="26.4" y="280" font-size="8.6" fill="#111" text-anchor="end">14.0</text><text x="1887.6" y="280" font-size="8.6" fill="#111" text-anchor="end">14.0</text><text x="26.4" y="236" font-size="8.6" fill="#111" text-anchor="end">14.5</text><text x="1887.6" y="236" font-size="8.6" fill="#111" text-anchor="end">14.5</text><text x="26.4" y="192" font-size="8.6" fill="#111" text-anchor="end">15.0</text><text x="1887.6" y="192" font-size="8.6" fill="#111" text-anchor="end">15.0</text><text x="26.4" y="149" font-size="8.6" fill="#111" text-anchor="end">15.5</text><text x="1887.6" y="149" font-size="8.6" fill="#111" text-anchor="end">15.5</text><text x="26.4" y="105" font-size="8.6" fill="#111" text-anchor="end">16.0</text><text x="1887.6" y="105" font-size="8.6" fill="#111" text-anchor="end">16.0</text><text x="26.4" y="61" font-size="8.6" fill="#111" text-anchor="end">16.5</text><text x="1887.6" y="61" font-size="8.6" fill="#111" text-anchor="end">16.5</text><text x="26.4" y="18" font-size="8.6" fill="#111" text-anchor="end">17.0</text><text x="1887.6" y="18" font-size="8.6" fill="#111" text-anchor="end">17.0</text><text x="26.4" y="872" font-size="8.6" fill="#111" text-anchor="end">0</text><text x="26.4" y="859" font-size="8.6" fill="#111" text-anchor="end">5</text><text x="26.4" y="845" font-size="8.6" fill="#111" text-anchor="end">10</text><text x="26.4" y="832" font-size="8.6" fill="#111" text-anchor="end">15</text><text x="26.4" y="818" font-size="8.6" fill="#111" text-anchor="end">20</text><text x="26.4" y="805" font-size="8.6" fill="#111" text-anchor="end">25</text><text x="26.4" y="791" font-size="8.6" fill="#111" text-anchor="end">30</text><text x="26.4" y="778" font-size="8.6" fill="#111" text-anchor="end">35</text><text x="26.4" y="764" font-size="8.6" fill="#111" text-anchor="end">40</text><text x="26.4" y="751" font-size="8.6" fill="#111" text-anchor="end">45</text><text x="26.4" y="737" font-size="8.6" fill="#111" text-anchor="end">50</text><text x="26.4" y="724" font-size="8.6" fill="#111" text-anchor="end">55</text><text x="26.4" y="710" font-size="8.6" fill="#111" text-anchor="end">60</text><text x="26.4" y="696" font-size="8.6" fill="#111" text-anchor="end">65</text><text x="26.4" y="683" font-size="8.6" fill="#111" text-anchor="end">70</text><text x="26.4" y="669" font-size="8.6" fill="#111" text-anchor="end">75</text><text x="26.4" y="656" font-size="8.6" fill="#111" text-anchor="end">80</text><text x="26.4" y="642" font-size="8.6" fill="#111" text-anchor="end">85</text><text x="26.4" y="629" font-size="8.6" fill="#111" text-anchor="end">90</text><text x="26.4" y="615" font-size="8.6" fill="#111" text-anchor="end">95</text><text x="26.4" y="602" font-size="8.6" fill="#111" text-anchor="end">100</text><text x="1887.6" y="856" font-size="8.6" fill="#111" text-anchor="end">5000</text><text x="1887.6" y="828" font-size="8.6" fill="#111" text-anchor="end">10000</text><text x="1887.6" y="801" font-size="8.6" fill="#111" text-anchor="end">15000</text><text x="1887.6" y="773" font-size="8.6" fill="#111" text-anchor="end">20000</text><text x="1887.6" y="745" font-size="8.6" fill="#111" text-anchor="end">25000</text><text x="1887.6" y="718" font-size="8.6" fill="#111" text-anchor="end">30000</text><text x="1887.6" y="690" font-size="8.6" fill="#111" text-anchor="end">35000</text><text x="1887.6" y="663" font-size="8.6" fill="#111" text-anchor="end">40000</text><text x="1887.6" y="635" font-size="8.6" fill="#111" text-anchor="end">45000</text><text x="1887.6" y="607" font-size="8.6" fill="#111" text-anchor="end">50000</text><text x="44.3" y="889" font-size="8.6" fill="#111" text-anchor="start">24</text><text x="68.3" y="889" font-size="8.6" fill="#111" text-anchor="start">1</text><text x="93.3" y="889" font-size="8.6" fill="#111" text-anchor="start">8</text><text x="117.3" y="889" font-size="8.6" fill="#111" text-anchor="start">15</text><text x="142.3" y="889" font-size="8.6" fill="#111" text-anchor="start">22</text><text x="166.3" y="889" font-size="8.6" fill="#111" text-anchor="start">29</text><text x="191.3" y="889" font-size="8.6" fill="#111" text-anchor="start">5</text><text x="215.3" y="889" font-size="8.6" fill="#111" text-anchor="start">12</text><text x="235.3" y="889" font-size="8.6" fill="#111" text-anchor="start">19</text><text x="259.3" y="889" font-size="8.6" fill="#111" text-anchor="start">26</text><text x="284.3" y="889" font-size="8.6" fill="#111" text-anchor="start">2</text><text x="309.3" y="889" font-size="8.6" fill="#111" text-anchor="start">9</text><text x="333.3" y="889" font-size="8.6" fill="#111" text-anchor="start">16</text><text x="358.3" y="889" font-size="8.6" fill="#111" text-anchor="start">23</text><text x="382.3" y="889" font-size="8.6" fill="#111" text-anchor="start">30</text><text x="407.3" y="889" font-size="8.6" fill="#111" text-anchor="start">7</text><text x="431.3" y="889" font-size="8.6" fill="#111" text-anchor="start">14</text><text x="456.3" y="889" font-size="8.6" fill="#111" text-anchor="start">21</text><text x="480.3" y="889" font-size="8.6" fill="#111" text-anchor="start">28</text><text x="505.3" y="889" font-size="8.6" fill="#111" text-anchor="start">4</text><text x="529.3" y="889" font-size="8.6" fill="#111" text-anchor="start">11</text><text x="554.3" y="889" font-size="8.6" fill="#111" text-anchor="start">18</text><text x="578.3" y="889" font-size="8.6" fill="#111" text-anchor="start">25</text><text x="603.3" y="889" font-size="8.6" fill="#111" text-anchor="start">2</text><text x="627.3" y="889" font-size="8.6" fill="#111" text-anchor="start">9</text><text x="652.3" y="889" font-size="8.6" fill="#111" text-anchor="start">16</text><text x="676.3" y="889" font-size="8.6" fill="#111" text-anchor="start">23</text><text x="701.3" y="889" font-size="8.6" fill="#111" text-anchor="start">6</text><text x="725.3" y="889" font-size="8.6" fill="#111" text-anchor="start">13</text><text x="750.3" y="889" font-size="8.6" fill="#111" text-anchor="start">20</text><text x="774.3" y="889" font-size="8.6" fill="#111" text-anchor="start">27</text><text x="799.3" y="889" font-size="8.6" fill="#111" text-anchor="start">3</text><text x="823.3" y="889" font-size="8.6" fill="#111" text-anchor="start">10</text><text x="848.3" y="889" font-size="8.6" fill="#111" text-anchor="start">17</text><text x="872.3" y="889" font-size="8.6" fill="#111" text-anchor="start">24</text><text x="897.3" y="889" font-size="8.6" fill="#111" text-anchor="start">3</text><text x="921.3" y="889" font-size="8.6" fill="#111" text-anchor="start">10</text><text x="946.3" y="889" font-size="8.6" fill="#111" text-anchor="start">17</text><text x="970.3" y="889" font-size="8.6" fill="#111" text-anchor="start">24</text><text x="995.3" y="889" font-size="8.6" fill="#111" text-anchor="start">31</text><text x="1019.3" y="889" font-size="8.6" fill="#111" text-anchor="start">7</text><text x="1044.3" y="889" font-size="8.6" fill="#111" text-anchor="start">14</text><text x="1064.3" y="889" font-size="8.6" fill="#111" text-anchor="start">22</text><text x="1083.3" y="889" font-size="8.6" fill="#111" text-anchor="start">28</text><text x="1103.3" y="889" font-size="8.6" fill="#111" text-anchor="start">5</text><text x="1127.3" y="889" font-size="8.6" fill="#111" text-anchor="start">12</text><text x="1152.3" y="889" font-size="8.6" fill="#111" text-anchor="start">19</text><text x="1176.3" y="889" font-size="8.6" fill="#111" text-anchor="start">26</text><text x="1201.3" y="889" font-size="8.6" fill="#111" text-anchor="start">2</text><text x="1225.3" y="889" font-size="8.6" fill="#111" text-anchor="start">9</text><text x="1250.3" y="889" font-size="8.6" fill="#111" text-anchor="start">16</text><text x="1274.3" y="889" font-size="8.6" fill="#111" text-anchor="start">23</text><text x="1299.3" y="889" font-size="8.6" fill="#111" text-anchor="start">30</text><text x="1323.3" y="889" font-size="8.6" fill="#111" text-anchor="start">7</text><text x="1348.3" y="889" font-size="8.6" fill="#111" text-anchor="start">14</text><text x="1372.3" y="889" font-size="8.6" fill="#111" text-anchor="start">21</text><text x="1397.3" y="889" font-size="8.6" fill="#111" text-anchor="start">28</text><text x="1421.3" y="889" font-size="8.6" fill="#111" text-anchor="start">4</text><text x="1446.3" y="889" font-size="8.6" fill="#111" text-anchor="start">11</text><text x="1466.3" y="889" font-size="8.6" fill="#111" text-anchor="start">18</text><text x="1490.3" y="889" font-size="8.6" fill="#111" text-anchor="start">25</text><text x="1515.3" y="889" font-size="8.6" fill="#111" text-anchor="start">1</text><text x="1539.3" y="889" font-size="8.6" fill="#111" text-anchor="start">8</text><text x="1564.3" y="889" font-size="8.6" fill="#111" text-anchor="start">15</text><text x="1588.3" y="889" font-size="8.6" fill="#111" text-anchor="start">22</text><text x="1613.3" y="889" font-size="8.6" fill="#111" text-anchor="start">29</text><text x="1637.3" y="889" font-size="8.6" fill="#111" text-anchor="start">6</text><text x="1662.3" y="889" font-size="8.6" fill="#111" text-anchor="start">13</text><text x="1686.3" y="889" font-size="8.6" fill="#111" text-anchor="start">20</text><text x="1711.3" y="889" font-size="8.6" fill="#111" text-anchor="start">27</text><text x="1735.3" y="889" font-size="8.6" fill="#111" text-anchor="start">3</text><text x="1760.3" y="889" font-size="8.6" fill="#111" text-anchor="start">10</text><text x="1784.3" y="889" font-size="8.6" fill="#111" text-anchor="start">17</text><text x="1809.3" y="889" font-size="8.6" fill="#111" text-anchor="start">24</text><text x="1833.3" y="889" font-size="8.6" fill="#111" text-anchor="start">1</text><text x="68.7" y="900" font-size="8.6" fill="#111" text-anchor="start">July</text><text x="181.7" y="900" font-size="8.6" fill="#111" text-anchor="start">August</text><text x="284.7" y="900" font-size="8.6" fill="#111" text-anchor="start">September</text><text x="387.7" y="900" font-size="8.6" fill="#111" text-anchor="start">October</text><text x="500.7" y="900" font-size="8.6" fill="#111" text-anchor="start">November</text><text x="603.7" y="900" font-size="8.6" fill="#111" text-anchor="start">December</text><text x="691.7" y="900" font-size="8.6" fill="#111" text-anchor="start">2025</text><text x="799.7" y="900" font-size="8.6" fill="#111" text-anchor="start">February</text><text x="897.7" y="900" font-size="8.6" fill="#111" text-anchor="start">March</text><text x="1000.7" y="900" font-size="8.6" fill="#111" text-anchor="start">April</text><text x="1098.7" y="900" font-size="8.6" fill="#111" text-anchor="start">May</text><text x="1201.7" y="900" font-size="8.6" fill="#111" text-anchor="start">June</text><text x="1304.7" y="900" font-size="8.6" fill="#111" text-anchor="start">July</text><text x="1417.7" y="900" font-size="8.6" fill="#111" text-anchor="start">August</text><text x="1515.7" y="900" font-size="8.6" fill="#111" text-anchor="start">September</text><text x="1623.7" y="900" font-size="8.6" fill="#111" text-anchor="start">October</text><text x="1735.7" y="900" font-size="8.6" fill="#111" text-anchor="start">November</text><text x="1833.7" y="900" font-size="8.6" fill="#111" text-anchor="start">December</text><text x="844" y="11.3" font-size="8.6" fill="#333" text-anchor="start" id="title">ENI (16.3240, 16.4060, 16.2800, 16.2960, +0.07800)</text><text x="1858.3" y="878.6" font-size="6.4" fill="#666" text-anchor="start">x1000</text></g>
<defs><clipPath id="clipx"><rect x="0" y="0" width="1890" height="902"/></clipPath></defs>
<rect x="1856" y="881" width="34" height="21" fill="#fff"/>
<rect x="1198.5" y="14.5" width="206" height="12" fill="#fff" stroke="#000"/>
<text id="copy" x="1200.5" y="22.7" font-family="Liberation Sans,Arial,sans-serif" font-weight="bold" font-size="9" fill="#000" stroke="#000" stroke-width="0.6" textLength="202.6" lengthAdjust="spacingAndGlyphs" shape-rendering="auto">COPYRIGHT<tspan stroke-width="0.15">@</tspan> LABORSADEIPICCOLI.COM</text>
<rect x="92.5" y="410.5" width="348" height="80" fill="#f4fff4" stroke="#000"/>
<text class="ann" x="94.5" y="422.6" font-family="Liberation Sans,Arial,sans-serif" font-weight="bold" font-size="13.33" letter-spacing="0.1" fill="#000" shape-rendering="auto">Eni recupera in harami i 16,3 in close con scambi in</text>
<text class="ann" x="94.5" y="438.7" font-family="Liberation Sans,Arial,sans-serif" font-weight="bold" font-size="13.33" letter-spacing="0.1" fill="#000" shape-rendering="auto">calo leggerissimo.</text>
<text class="ann" x="94.5" y="454.7" font-family="Liberation Sans,Arial,sans-serif" font-weight="bold" font-size="13.33" letter-spacing="0.1" fill="#000" shape-rendering="auto">Nega la correzione di ieri e rimane in consolidamento</text>
<text class="ann" x="94.5" y="470.8" font-family="Liberation Sans,Arial,sans-serif" font-weight="bold" font-size="13.33" letter-spacing="0.1" fill="#000" shape-rendering="auto">poco sotto i massimi.</text>
<text class="ann" x="94.5" y="486.8" font-family="Liberation Sans,Arial,sans-serif" font-weight="bold" font-size="13.33" letter-spacing="0.1" fill="#000" shape-rendering="auto">Pericolo solamente in rottura dei 16,05.</text>
</svg>
</body></html>
